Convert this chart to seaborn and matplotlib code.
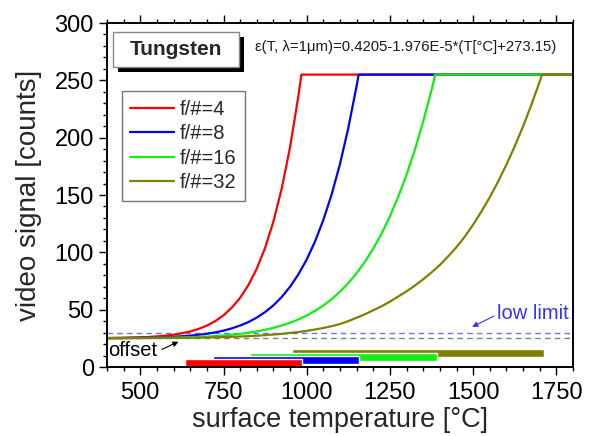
"""
Tungsten video signal vs. surface temperature for four f-numbers,
with the usable range (low limit to saturation) shown as bars at the bottom.
"""

import matplotlib
matplotlib.use("Agg")
import matplotlib.pyplot as plt
import seaborn as sns
from matplotlib.patches import Rectangle
from matplotlib.ticker import MultipleLocator

# Curve data: temperature [°C] and video signal [counts]
labels = ["f/#=4", "f/#=8", "f/#=16", "f/#=32"]
colors = ["#ff0000", "#0000ff", "#11ee11", "#808000"]

temp_f4 = [400, 450, 500, 525, 550, 575, 600, 625, 650, 675, 700, 725, 750, 775,
           800, 825, 850, 875, 900, 925, 950, 975, 984, 1800]
signal_f4 = [25.3, 25.5, 25.9, 26.2, 26.7, 27.3, 28.2, 29.4, 31.0, 33.2, 36.1, 40.0,
             45.1, 51.8, 60.4, 71.6, 85.8, 104.0, 127.0, 155.8, 191.8, 236.5, 255, 255]

temp_f8 = [400, 450, 500, 550, 575, 600, 625, 650, 675, 700, 725, 750, 775, 800,
           825, 850, 875, 900, 925, 950, 975, 1000, 1025, 1050, 1075, 1100, 1125,
           1150, 1156, 1800]
signal_f8 = [25.2, 25.3, 25.5, 25.8, 26.0, 26.4, 26.8, 27.3, 28.1, 29.0, 30.2, 31.7,
             33.7, 36.2, 39.2, 43.1, 47.9, 53.8, 61.1, 70.0, 80.8, 93.8, 109.5, 128.3,
             150.6, 177.1, 208.5, 245.3, 255, 255]

temp_f16 = [400, 500, 600, 625, 650, 675, 700, 725, 750, 775, 800, 825, 850, 875,
            900, 925, 950, 975, 1000, 1025, 1050, 1075, 1100, 1125, 1150, 1175, 1200,
            1225, 1250, 1275, 1300, 1325, 1350, 1375, 1386, 1800]
signal_f16 = [25.1, 25.3, 25.6, 25.8, 26.0, 26.3, 26.6, 27.0, 27.5, 28.2, 28.9, 29.9,
              31.1, 32.5, 34.1, 36.2, 38.6, 41.5, 44.9, 49.0, 53.7, 59.2, 65.7, 73.2,
              81.9, 91.9, 103.4, 116.5, 131.5, 148.6, 167.9, 189.7, 214.2, 241.8, 255, 255]

temp_f32 = [400, 500, 600, 650, 700, 725, 750, 775, 800, 825, 850, 875, 900, 925,
            950, 975, 1000, 1025, 1050, 1075, 1100, 1125, 1150, 1175, 1200, 1225, 1250,
            1275, 1300, 1325, 1350, 1375, 1400, 1425, 1450, 1475, 1500, 1525, 1550,
            1575, 1600, 1625, 1650, 1675, 1700, 1707, 1800]
signal_f32 = [25.1, 25.2, 25.4, 25.5, 25.7, 25.9, 26.1, 26.3, 26.6, 26.9, 27.3, 27.8,
              28.3, 28.9, 29.7, 30.5, 31.5, 32.7, 34.0, 35.6, 37.5, 40.0, 43.0, 46.0,
              49.5, 53.0, 57.0, 61.5, 66.0, 71.0, 76.5, 82.5, 89.0, 96.5, 104.5, 113.7,
              124.2, 135.6, 148.1, 161.7, 176.5, 192.5, 209.9, 228.7, 249.0, 255, 255]

# Usable range bars: [start, end] in °C
bar_start = [635, 719, 831, 957]
bar_end = [985, 1157, 1390, 1712]
bar_levels = [3.3, 6.0, 8.9, 12.3]

offset = 25
low_limit = 30

temps = [temp_f4, temp_f8, temp_f16, temp_f32]
signals = [signal_f4, signal_f8, signal_f16, signal_f32]

sns.set_style("ticks")
plt.rcParams["font.family"] = ["Liberation Sans", "DejaVu Sans"]

fig = plt.figure(figsize=(5.96, 4.36), dpi=100)
ax = fig.add_axes([107 / 596, 69 / 436, 466 / 596, 344 / 436])

ax.axhline(low_limit, color="#7070ff", ls=(0, (4, 3)), lw=1)
ax.axhline(offset, color="#808080", ls=(0, (4, 3)), lw=1)

for T, S, name, c in zip(temps, signals, labels, colors):
    sns.lineplot(x=T, y=S, color=c, lw=1.6, label=name, ax=ax, sort=False)

# red bar on top, olive at the back
for s, e, lev, c in list(zip(bar_start, bar_end, bar_levels, colors))[::-1]:
    ax.barh(lev, e - s, left=s, height=6.6, color=c)

ax.set_xlim(400, 1800)
ax.set_ylim(0, 300)
ax.xaxis.set_major_locator(MultipleLocator(250))
ax.xaxis.set_minor_locator(MultipleLocator(50))
ax.yaxis.set_major_locator(MultipleLocator(50))
ax.yaxis.set_minor_locator(MultipleLocator(10))
ax.tick_params(which="both", direction="out", top=True, right=False, width=1, colors="black")
ax.tick_params(which="major", length=6, labelsize=17)
ax.tick_params(axis="x", which="major", pad=5)
ax.tick_params(which="minor", length=3)
for sp in ax.spines.values():
    sp.set_linewidth(1.4)
    sp.set_color("black")
ax.set_xlabel("surface temperature [°C]", fontsize=19.5, labelpad=2)
ax.set_ylabel("video signal [counts]", fontsize=20, labelpad=9)

leg = ax.legend(loc="upper left", bbox_to_anchor=(0.0315, 0.802), borderaxespad=0,
                fontsize=14.5, fancybox=False, edgecolor="#777777", framealpha=1,
                handlelength=2.2, handletextpad=0.25, labelspacing=0.28, borderpad=0.42)
leg.get_frame().set_linewidth(1)

# "Tungsten" box with drop shadow
ax.add_patch(Rectangle((0.0242, 0.8585), 0.2704, 0.1017, transform=ax.transAxes,
                       fc="black", ec="none", clip_on=False, zorder=5))
ax.add_patch(Rectangle((0.0135, 0.873), 0.2704, 0.1017, transform=ax.transAxes,
                       fc="white", ec="#888888", lw=1, clip_on=False, zorder=6))
ax.text(0.1487, 0.924, "Tungsten", transform=ax.transAxes, ha="center", va="center",
        fontsize=15, fontweight="bold", zorder=7)
ax.text(0.3176, 0.931, "ε(T, λ=1μm)=0.4205-1.976E-5*(T[°C]+273.15)", transform=ax.transAxes,
        ha="left", va="center", fontsize=10.7, color="#1a1a1a")

ax.text(1572, 47, "low limit", color="#3333ff", fontsize=14.5, ha="left", va="center")
ax.annotate("", xy=(1497, 35), xytext=(1563, 44.5),
            arrowprops=dict(arrowstyle="-|>", color="#3333ff", lw=0.8, mutation_scale=8,
                            shrinkA=0, shrinkB=0))
ax.text(404, 14.2, "offset", color="black", fontsize=14.5, ha="left", va="center")
ax.annotate("", xy=(615, 22), xytext=(565, 15.4),
            arrowprops=dict(arrowstyle="-|>", color="black", lw=0.8, mutation_scale=8,
                            shrinkA=0, shrinkB=0))

fig.savefig("out.png")
